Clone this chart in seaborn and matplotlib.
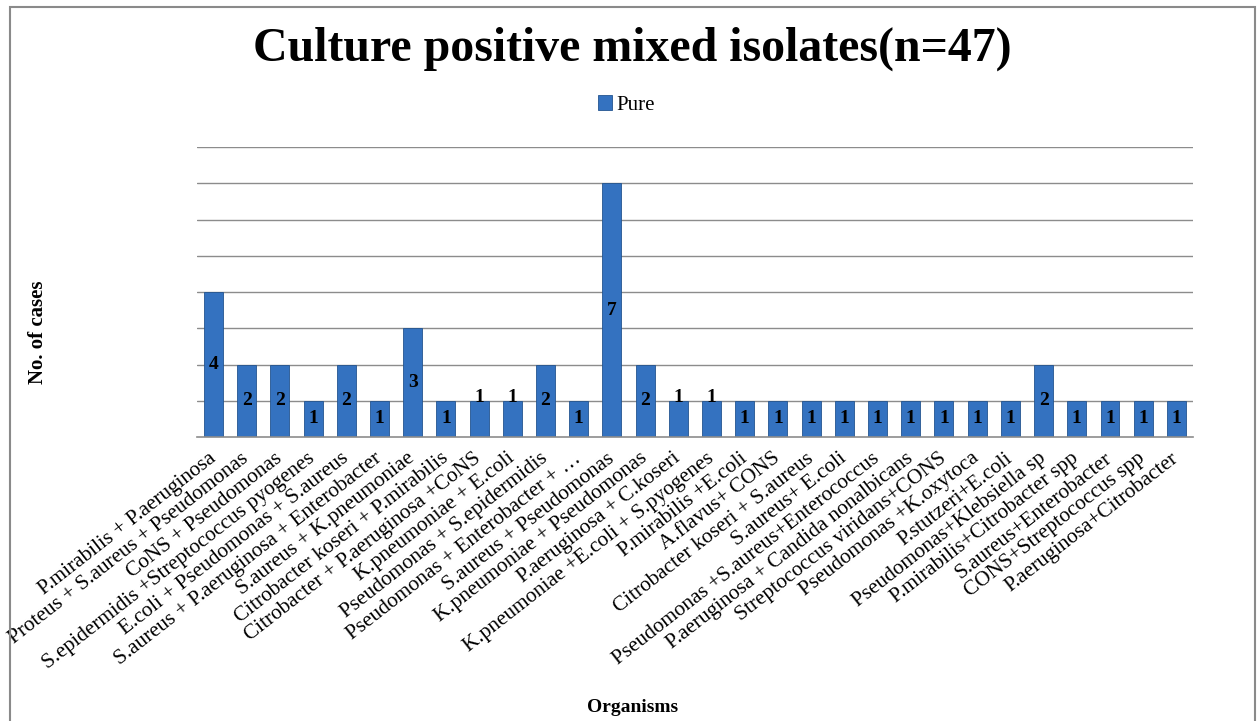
import numpy as np
import pandas as pd
import seaborn as sns
import matplotlib.pyplot as plt
from matplotlib.patches import Rectangle

organisms = [
    "P.mirabilis + P.aeruginosa",
    "Proteus + S.aureus + Pseudomonas",
    "CoNS + Pseudomonas",
    "S.epidermidis +Streptococcus pyogenes",
    "E.coli + Pseudomonas + S.aureus",
    "S.aureus + P.aeruginosa + Enterobacter",
    "S.aureus + K.pneumoniae",
    "Citrobacter koseri + P.mirabilis",
    "Citrobacter + P.aeruginosa +CoNS",
    "K.pneumoniae + E.coli",
    "Pseudomonas + S.epidermidis",
    "Pseudomonas + Enterobacter + \u2026",
    "S.aureus + Pseudomonas",
    "K.pneumoniae + Pseudomonas",
    "P.aeruginosa + C.koseri",
    "K.pneumoniae +E.coli + S.pyogenes",
    "P.mirabilis +E.coli",
    "A.flavus+ CONS",
    "Citrobacter koseri + S.aureus",
    "S.aureus+ E.coli",
    "Pseudomonas +S.aureus+Enterococcus",
    "P.aeruginosa + Candida nonalbicans",
    "Streptococcus viridans+CONS",
    "Pseudomonas +K.oxytoca",
    "P.stutzeri+E.coli",
    "Pseudomonas+Klebsiella sp",
    "P.mirabilis+Citrobacter spp",
    "S.aureus+Enterobacter",
    "CONS+Streptococcus spp",
    "P.aeruginosa+Citrobacter",
]
counts = [4, 2, 2, 1, 2, 1, 3, 1, 1, 1, 2, 1, 7, 2, 1, 1,
          1, 1, 1, 1, 1, 1, 1, 1, 1, 2, 1, 1, 1, 1]
# bars whose value label sits on top instead of in the middle
labels_on_top = [8, 9, 14, 15]

df = pd.DataFrame({"organism": organisms, "count": counts})

sns.set_style("white")
plt.rcParams["font.family"] = ["Liberation Serif", "DejaVu Serif"]
plt.rcParams["text.color"] = "black"
plt.rcParams["xtick.color"] = "black"
plt.rcParams["axes.labelcolor"] = "black"

fig = plt.figure(figsize=(12.6, 7.21), dpi=100)
ax = fig.add_axes([0.1563, 0.3939, 0.7905, 0.4022])

bar_color = "#3472C0"
sns.barplot(data=df, x="organism", y="count", color=bar_color, width=0.57,
            saturation=1, edgecolor="#23548F", linewidth=0.6, label="Pure", ax=ax)

ax.set_ylim(0, 8)
ax.set_yticks(range(1, 9))
ax.set_yticklabels([])
ax.tick_params(axis="y", length=0)
ax.yaxis.grid(True, color="#8C8C8C", linewidth=1)
ax.set_axisbelow(True)
for side in ["left", "right", "top"]:
    ax.spines[side].set_visible(False)
ax.spines["bottom"].set_color("#8C8C8C")
ax.spines["bottom"].set_linewidth(1.2)

ax.tick_params(axis="x", length=0, pad=14)
ax.set_xticks(range(len(organisms)))
ax.set_xticklabels(organisms, rotation=38, ha="right", va="center",
                   rotation_mode="anchor", fontsize=15.3)

container = ax.containers[0]
mid = ["" if i in labels_on_top else str(c) for i, c in enumerate(counts)]
top = [str(c) if i in labels_on_top else "" for i, c in enumerate(counts)]
ax.bar_label(container, labels=mid, label_type="center",
             fontsize=14, fontweight="bold")
ax.bar_label(container, labels=top, label_type="edge", padding=-4,
             fontsize=14, fontweight="bold")

ax.set_xlabel("Organisms", fontsize=14, fontweight="bold")
ax.xaxis.set_label_coords(0.437, -0.905)
ax.set_ylabel("No. of cases", fontsize=15, fontweight="bold")
ax.yaxis.set_label_coords(-0.150, 0.362)

ax.legend(loc="center", bbox_to_anchor=(0.497, 0.854), bbox_transform=fig.transFigure,
          frameon=False, fontsize=15, handlelength=0.7, handleheight=0.7,
          handletextpad=0.2)

fig.text(0.5016, 0.933, "Culture positive mixed isolates(n=47)", ha="center",
         va="center", fontsize=34.5, fontweight="bold")

fig.add_artist(Rectangle((0.0079, -0.02), 0.988, 1.0103, transform=fig.transFigure,
                         fill=False, edgecolor="#8A8A8A", linewidth=1.5))

fig.savefig("out.png", dpi=100)
